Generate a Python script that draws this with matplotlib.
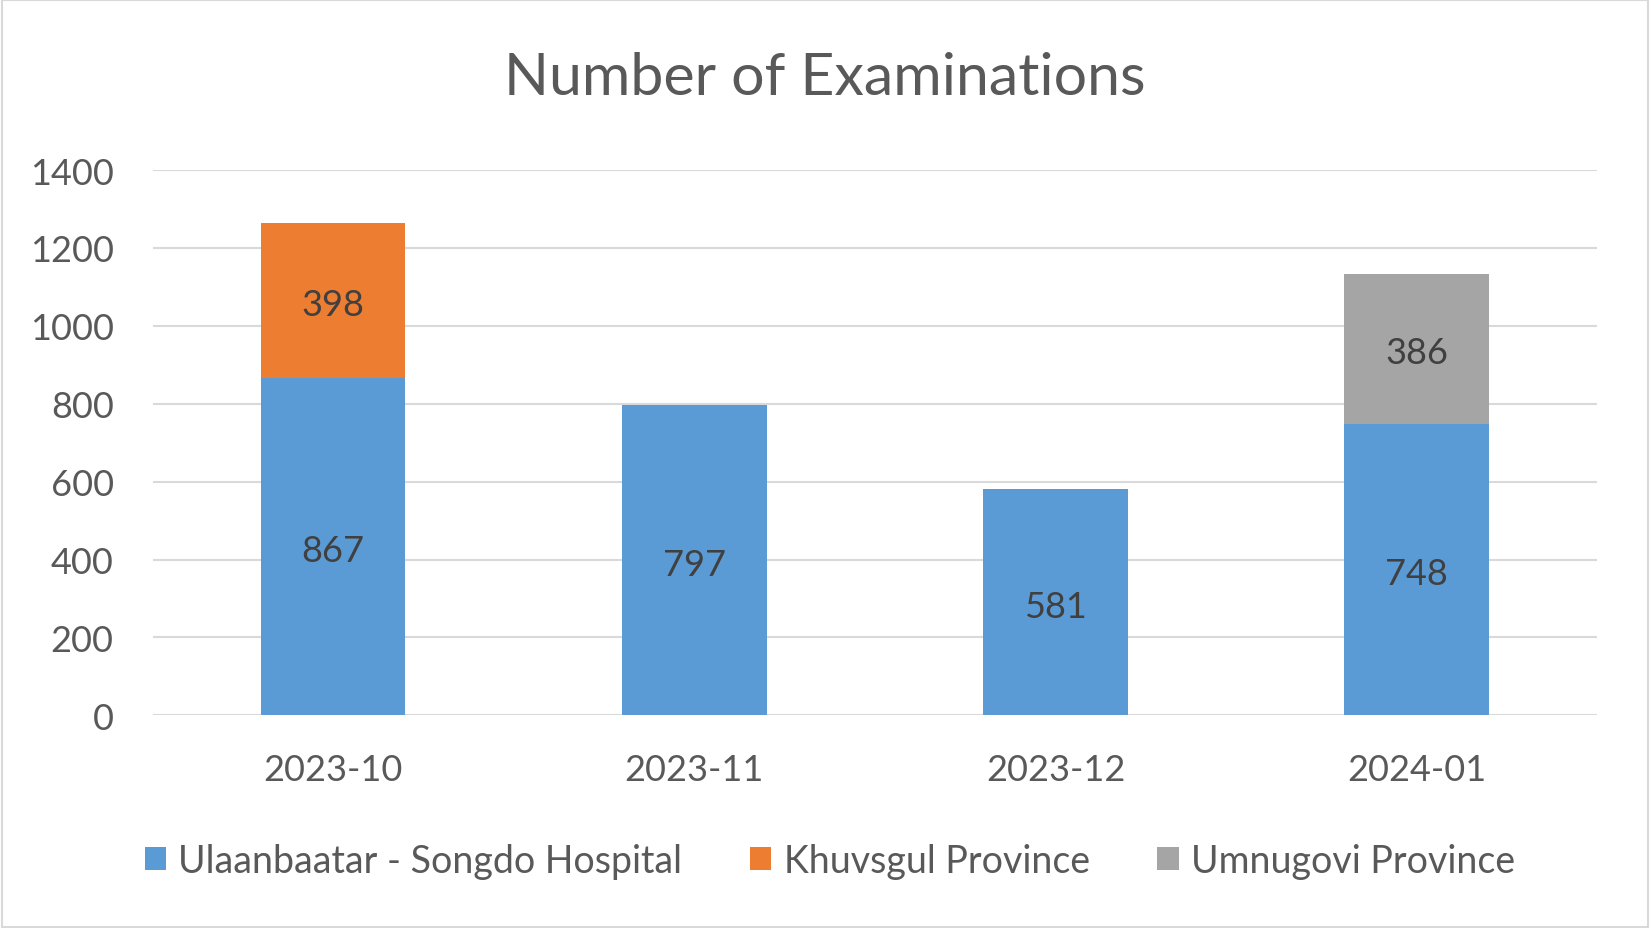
import numpy as np
import matplotlib.pyplot as plt
from matplotlib.transforms import offset_copy

months = ["2023-10", "2023-11", "2023-12", "2024-01"]
songdo = [867, 797, 581, 748]
khuvsgul = [398, 0, 0, 0]
umnugovi = [0, 0, 0, 386]
yticks = [0, 200, 400, 600, 800, 1000, 1200, 1400]

plt.rcParams['font.family'] = ['Lato', 'DejaVu Sans']

fig = plt.figure(figsize=(16.5, 9.29), dpi=100)
ax = fig.add_axes([0.0925, 0.2289, 0.8755, 0.5870])

x = np.arange(len(months))
w = 0.40
b1 = ax.bar(x, songdo, w, color="#5B9BD5", label="Ulaanbaatar - Songdo Hospital", zorder=3)
b2 = ax.bar(x, khuvsgul, w, bottom=songdo, color="#ED7D31", label="Khuvsgul Province", zorder=3)
bottom2 = np.array(songdo) + np.array(khuvsgul)
b3 = ax.bar(x, umnugovi, w, bottom=bottom2, color="#A5A5A5", label="Umnugovi Province", zorder=3)

# nudge labels down a little, like the original
lbl_tr = offset_copy(ax.transData, fig=fig, x=0, y=-3, units="points")
for bars, vals, bots in [(b1, songdo, np.zeros(4)), (b2, khuvsgul, songdo), (b3, umnugovi, bottom2)]:
    for rect, v, b in zip(bars, vals, bots):
        if v > 0:
            ax.text(rect.get_x() + rect.get_width() / 2, b + v / 2, str(v), transform=lbl_tr,
                    ha="center", va="center", fontsize=26, color="#404040", zorder=4)

ax.set_xlim(-0.5, 3.5)
ax.set_ylim(0, 1400)
ax.set_yticks(yticks)
ax.set_xticks(x)
ax.set_xticklabels(months)
ax.tick_params(axis="both", length=0, labelsize=26, labelcolor="#595959")
ax.tick_params(axis="x", pad=27)
ax.tick_params(axis="y", pad=28)
ax.grid(axis="y", color="#D9D9D9", linewidth=1.5, zorder=0)
for s in ax.spines.values():
    s.set_visible(False)

fig.text(0.5, 0.915, "Number of Examinations", ha="center", va="center",
         fontsize=42.5, color="#595959")

fig.legend(handles=[b1, b2, b3], loc="center", bbox_to_anchor=(0.503, 0.072), ncol=3,
           frameon=False, fontsize=27, labelcolor="#595959", handlelength=0.57,
           handleheight=0.57, handletextpad=0.33, columnspacing=1.8)

fig.patches.append(plt.Rectangle((0.001, 0.001), 0.998, 0.998, transform=fig.transFigure,
                                 fill=False, edgecolor="#D9D9D9", linewidth=1.5))

fig.savefig("out.png", dpi=100)
